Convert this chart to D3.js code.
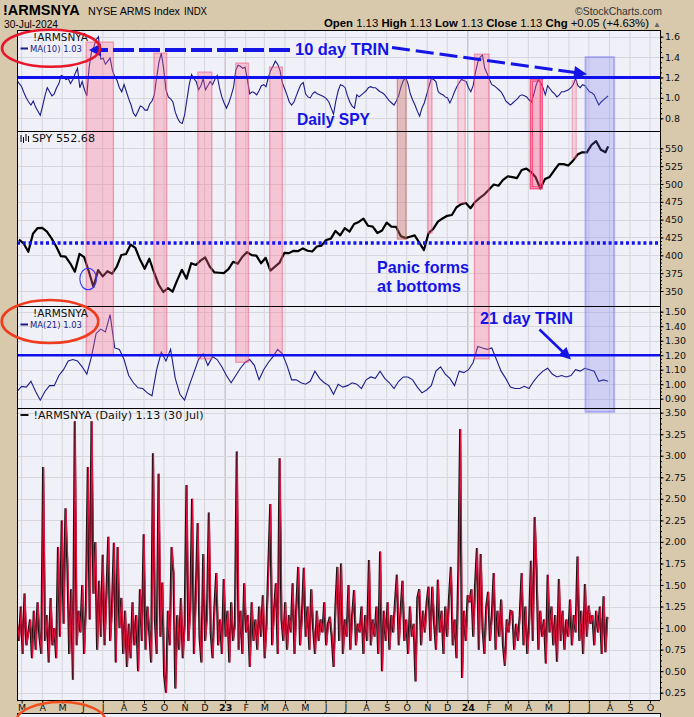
<!DOCTYPE html>
<html><head><meta charset="utf-8">
<script src="https://cdn.jsdelivr.net/npm/d3@7/dist/d3.min.js"></script>
<style>html,body{margin:0;padding:0;background:#d8c8ac;}svg{display:block;}</style>
</head><body>
<svg id="chart" width="694" height="717"></svg>
<script>
// ================= DATA =================
const monthLetters = ["J","F","M","A","M","J","J","A","S","O","N","D"];

// 10-day MA of NYSE TRIN, sampled every 3.5 days from 2022-02-22
const ma10Start = "2022-02-22", ma10StepDays = 3.5;
const ma10Values = [
1.17,1.14,1.11,1.05,1.00,0.96,0.93,0.97,0.91,0.87,
0.83,0.92,1.02,1.10,1.06,1.02,1.04,1.10,1.14,1.22,
1.21,1.18,1.19,1.14,1.18,1.24,1.29,1.10,1.16,1.08,
1.02,1.30,1.45,1.50,1.57,1.60,1.38,1.39,1.33,1.36,
1.39,1.27,1.21,1.17,1.10,1.06,1.13,1.06,0.99,0.93,
0.85,0.82,0.87,0.92,0.91,0.88,0.88,0.94,0.97,1.03,
1.20,1.35,1.44,1.29,1.08,1.01,0.99,0.96,0.86,0.80,
0.76,0.75,0.83,0.98,1.13,1.23,1.19,1.16,1.08,1.12,
1.19,1.08,1.12,1.16,1.13,1.18,1.22,1.10,1.01,0.95,
0.90,0.95,1.02,1.10,1.27,1.32,1.31,1.29,1.30,1.18,
1.04,1.06,1.05,1.03,1.07,1.12,1.13,1.11,1.20,1.27,
1.31,1.36,1.33,1.27,1.15,1.09,1.03,0.96,0.93,0.96,
1.02,1.08,1.13,1.15,1.04,1.01,1.00,1.04,1.06,1.04,
1.03,1.02,1.01,0.99,0.96,0.90,0.84,0.97,1.07,1.13,
1.12,1.10,1.02,0.96,0.92,0.90,1.03,1.01,1.03,1.05,
1.07,1.10,1.11,1.10,1.10,1.08,1.06,1.05,1.03,1.00,
0.97,0.95,0.93,0.97,1.02,1.11,1.17,1.20,1.14,1.04,
0.98,0.93,0.87,0.82,0.90,0.95,1.03,1.11,1.19,1.18,
1.16,1.06,1.04,1.03,1.01,1.00,0.95,1.00,1.06,1.11,
1.15,1.18,1.17,1.16,1.10,1.06,1.12,1.25,1.35,1.40,
1.42,1.29,1.24,1.18,1.13,1.12,1.10,1.08,1.06,1.02,
0.97,0.95,0.93,0.95,0.97,0.99,1.02,1.03,1.02,1.01,
0.98,0.96,1.03,1.12,1.18,1.15,1.10,1.03,1.12,1.09,
1.06,1.04,1.01,1.03,1.06,1.06,1.07,1.08,1.10,1.13,
1.19,1.12,1.10,1.13,1.12,1.09,1.06,1.05,1.03,0.98,
0.93,0.96,0.98,1.00,1.02];

// SPY weekly closes (dividend adjusted), Fridays from 2022-02-25
const spyStart = "2022-02-25", spyStepDays = 7;
const spyWeeklyClose = [
422.0,416.6,405.0,430.3,438.2,438.4,433.3,423.8,412.4,398.8,398.1,388.8,377.1,402.0,397.4,377.3,355.7,379.2,370.5,377.8,
374.3,384.0,400.5,401.9,415.1,410.3,394.0,381.2,395.2,376.3,359.1,348.6,354.1,349.0,365.3,379.7,367.3,388.9,386.5,392.6,
397.1,383.9,376.0,375.6,375.1,
380.7,390.9,388.4,398.0,404.5,400.2,399.6,388.9,396.5,378.6,384.1,389.8,403.3,403.1,406.3,406.0,409.7,406.4,405.4,412.3,
413.7,421.5,423.4,434.2,428.0,438.0,433.3,443.9,446.8,451.4,441.4,440.3,431.3,434.7,445.8,440.2,439.9,427.0,424.1,426.1,
428.0,417.8,407.4,431.2,437.1,447.2,451.7,455.4,456.5,467.4,471.8,473.4,
466.0,474.8,480.5,485.5,492.4,499.2,497.5,505.8,510.8,509.7,508.3,519.6,521.5,516.8,509.3,493.7,506.8,509.8,519.2,527.9,
527.8,525.8,532.4,541.2,544.5,544.2,554.6,560.0,548.0,544.4];
const spyLastDate = "2024-07-30", spyLastClose = 552.68;

// 21-day MA of NYSE TRIN, weekly from 2022-02-22
const ma21Start = "2022-02-22", ma21StepDays = 7;
const ma21Values = [
0.95,0.985,0.98,1.02,0.95,0.89,0.95,0.99,0.99,1.06,
1.10,1.16,1.17,1.16,1.12,1.07,1.19,1.35,1.38,1.36,
1.48,1.25,1.24,1.17,1.06,1.01,0.975,0.97,0.94,0.92,
1.10,1.22,1.16,1.24,1.04,0.93,0.89,0.99,1.08,1.17,
1.21,1.13,1.19,1.17,1.12,1.06,1.01,1.06,1.11,1.15,
1.17,1.13,1.03,1.10,1.15,1.19,1.24,1.21,1.13,1.03,
1.03,1.01,1.00,1.02,1.09,1.04,1.01,0.99,0.93,1.00,
0.98,0.99,1.01,1.00,0.97,1.03,1.05,1.04,1.09,1.04,
1.01,0.97,1.02,1.05,1.05,1.03,0.98,0.94,0.96,0.99,
1.09,1.12,1.07,1.04,0.99,1.09,1.08,1.10,1.15,1.26,
1.25,1.24,1.25,1.17,1.09,1.04,0.98,0.97,0.97,0.985,
0.97,1.02,1.06,1.09,1.11,1.07,1.05,1.06,1.05,1.06,
1.10,1.09,1.11,1.10,1.09,1.02,1.03,1.02];

// Daily TRIN, sampled every ~2 sessions (2.8 calendar days) from 2022-02-22
const trinStart = "2022-02-22", trinStepDays = 2.8;
const trinValues = [
1.05,0.85,1.25,0.70,1.40,0.80,0.95,1.10,0.65,1.20,
0.75,1.30,0.90,0.70,2.87,0.85,1.15,0.60,1.35,0.80,
1.00,0.65,1.94,0.90,2.25,1.05,2.39,1.75,0.70,1.45,
0.40,3.40,0.80,1.20,0.95,1.50,0.70,1.30,2.87,1.10,
3.40,1.40,2.00,0.75,1.55,0.90,1.85,0.80,1.40,2.06,
0.85,1.25,1.99,0.60,1.94,1.00,1.35,0.70,1.20,0.55,
1.05,0.65,1.30,0.80,1.15,0.50,1.45,0.85,2.09,0.75,
1.25,0.95,0.60,3.03,1.10,0.70,2.79,0.90,1.53,0.45,
0.25,1.20,0.80,1.94,1.64,0.30,1.15,0.75,1.35,0.65,
1.05,2.66,0.85,1.20,2.50,0.70,1.40,2.22,0.90,0.60,
1.86,0.85,1.15,2.34,0.95,0.65,1.25,1.64,0.80,1.10,
0.70,1.57,0.90,1.20,0.60,1.30,0.85,1.05,3.05,0.75,
1.20,0.70,1.52,0.95,1.15,0.55,1.30,0.85,1.10,0.75,
1.25,0.90,1.38,0.65,1.05,1.75,2.44,0.80,1.20,1.52,
0.70,2.97,1.10,0.85,1.30,0.75,1.15,0.95,1.52,0.70,
1.25,1.71,0.80,1.15,1.70,0.90,1.25,0.75,1.45,1.00,
0.70,1.20,0.85,1.10,0.95,1.30,0.80,1.05,1.13,0.90,
0.55,1.25,1.71,0.85,1.75,0.70,1.10,0.90,1.50,0.75,
1.15,1.44,0.80,1.05,0.95,1.25,0.70,1.15,0.85,1.79,
0.80,1.10,0.90,1.25,0.70,1.89,0.50,1.20,0.85,1.30,
0.75,1.15,0.95,1.30,1.62,0.80,1.20,1.55,0.85,1.10,
0.70,1.25,0.90,1.05,0.38,1.35,1.45,0.80,1.20,0.95,
1.30,1.48,0.85,1.48,1.05,0.75,1.56,0.95,1.20,0.70,
1.25,0.90,1.35,1.71,0.80,1.10,0.65,1.67,3.31,0.42,
1.20,0.85,1.38,1.30,1.45,0.90,1.50,1.93,0.75,1.86,
1.00,0.70,1.25,1.42,0.85,1.15,1.64,0.75,1.20,0.90,
1.33,0.80,0.56,1.10,0.95,1.20,1.19,0.75,1.05,0.85,
1.15,1.64,0.80,1.25,0.70,1.05,1.78,0.85,2.29,1.67,
0.75,1.20,0.90,1.10,0.59,1.62,0.95,1.25,0.80,1.15,
0.61,1.57,0.85,1.20,0.75,1.10,0.90,1.33,0.80,1.15,
0.95,1.83,0.85,1.20,0.70,1.51,0.90,1.26,1.05,1.15,
0.80,1.20,0.95,1.25,0.70,1.37,0.72,1.13];

// axis tick labels
const ticksMA10 = [0.8, 1.0, 1.2, 1.4, 1.6];
const ticksSPY = [350, 375, 400, 425, 450, 475, 500, 525, 550];
const ticksMA21 = [0.9, 1.0, 1.1, 1.2, 1.3, 1.4, 1.5];
const ticksTRIN = [0.25, 0.5, 0.75, 1.0, 1.25, 1.5, 1.75, 2.0, 2.25, 2.5, 2.75, 3.0, 3.25, 3.5];

// highlight zones: date span, top value (on MA10 panel), bottom value on given panel
const zoneFrom   = ["2022-06-06","2022-09-16","2022-11-21","2023-01-17","2023-03-09","2023-09-17","2023-11-02","2023-12-17","2024-01-11","2024-04-04","2024-06-06"];
const zoneTo     = ["2022-07-17","2022-10-05","2022-12-12","2023-02-05","2023-03-28","2023-09-30","2023-11-08","2023-12-28","2024-02-02","2024-04-22","2024-06-12"];
const zoneTop    = [1.547,1.439,1.253,1.341,1.302,1.204,1.21,1.20,1.429,1.184,1.168];
const zoneBotPan = [3,3,3,3,3,2,2,2,3,2,2];
const zoneBot    = [1.205,1.205,1.175,1.151,1.198,422.8,431.2,473.2,1.175,493.3,536.3];
const zoneKind   = ["pink","pink","pink","pink","pink","brown","pink","light","pink","strong","light"];

// ================= DRAW =================
const svg = d3.select("#chart");
const L = 17, R = 660;
const P = [null, {t:30,b:131}, {t:131,b:306}, {t:306,b:408}, {t:408,b:700}];
const DAY = 864e5;
const parse = s => new Date(s + "T00:00:00Z");
const seq = (start, step, n) => d3.range(n).map(i => new Date(parse(start).getTime() + i*step*DAY));

const x = d3.scaleUtc().domain([parse("2022-02-22"), parse("2024-10-16")]).range([L, R]);
const y1 = d3.scaleLinear().domain([0.8,1.6]).range([118.3,36.7]);
const y2 = d3.scaleLinear().domain([350,550]).range([291,148.3]);
const y3 = d3.scaleLinear().domain([0.9,1.5]).range([398.7,311.7]);
const y4 = d3.scaleLinear().domain([0.25,3.5]).range([692.7,412.7]);
const Y = [null,y1,y2,y3,y4];
const TK = [null,ticksMA10,ticksSPY,ticksMA21,ticksTRIN];

const months = d3.utcMonth.range(parse("2022-03-01"), parse("2024-10-02"));

const defs = svg.append("defs");
P.forEach((p,i)=>{ if(!p) return;
  defs.append("clipPath").attr("id","cp"+i).append("rect")
    .attr("x",L).attr("y",p.t).attr("width",R-L).attr("height",p.b-p.t);
});
defs.append("clipPath").attr("id","cpAll").append("rect").attr("x",L).attr("y",30).attr("width",R-L).attr("height",670);

// plot background
svg.append("rect").attr("x",L).attr("y",30).attr("width",R-L).attr("height",670).attr("fill","#eff0f8");

// grid
for (let i=1;i<=4;i++){
  const g = svg.append("g").attr("clip-path",`url(#cp${i})`);
  g.selectAll("line.v").data(months).enter().append("line")
    .attr("x1",d=>x(d)).attr("x2",d=>x(d)).attr("y1",P[i].t).attr("y2",P[i].b)
    .attr("stroke",d=>d.getUTCMonth()===0?"#b8b4b0":"#d6d6dc").attr("stroke-width",1);
  g.selectAll("line.h").data(TK[i]).enter().append("line")
    .attr("x1",L).attr("x2",R).attr("y1",d=>Math.round(Y[i](d))+0.5).attr("y2",d=>Math.round(Y[i](d))+0.5)
    .attr("stroke","#d6d6dc").attr("stroke-width",1);
}

// series
const ma10Dates = seq(ma10Start, ma10StepDays, ma10Values.length);
svg.append("path").attr("clip-path","url(#cp1)")
  .attr("d", d3.line().x((d,i)=>x(ma10Dates[i])).y(d=>y1(d))(ma10Values))
  .attr("fill","none").attr("stroke","#1c1c8a").attr("stroke-width",1.1);

const spyDates = seq(spyStart, spyStepDays, spyWeeklyClose.length).concat([parse(spyLastDate)]);
const spyVals = spyWeeklyClose.concat([spyLastClose]);
svg.append("path").attr("clip-path","url(#cp2)")
  .attr("d", d3.line().x((d,i)=>x(spyDates[i])).y(d=>y2(d))(spyVals))
  .attr("fill","none").attr("stroke","#000").attr("stroke-width",2.2).attr("stroke-linejoin","round");

const ma21Dates = seq(ma21Start, ma21StepDays, ma21Values.length);
svg.append("path").attr("clip-path","url(#cp3)")
  .attr("d", d3.line().x((d,i)=>x(ma21Dates[i])).y(d=>y3(d))(ma21Values))
  .attr("fill","none").attr("stroke","#1c1c8a").attr("stroke-width",1.1);

const trinDates = seq(trinStart, trinStepDays, trinValues.length);
const trinLine = d3.line().x((d,i)=>x(trinDates[i])).y(d=>y4(d));
const g4 = svg.append("g").attr("clip-path","url(#cp4)");
g4.append("path").attr("d", trinLine(trinValues)).attr("fill","none").attr("stroke","#111").attr("stroke-width",2.0);
g4.append("path").attr("d", trinLine(trinValues)).attr("transform","translate(0.6,0)")
  .attr("fill","none").attr("stroke","#e0103c").attr("stroke-width",1.2);

// highlight zones
const zoneStyle = {
  pink:  {fill:"rgba(255,105,140,0.32)", stroke:"rgba(240,90,120,0.55)"},
  brown: {fill:"rgba(205,110,100,0.40)", stroke:"rgba(200,95,90,0.6)"},
  light: {fill:"rgba(255,120,150,0.24)", stroke:"rgba(245,100,130,0.45)"},
  strong:{fill:"rgba(255,80,125,0.36)", stroke:"rgba(250,60,110,0.85)"}
};
const zg = svg.append("g").attr("clip-path","url(#cpAll)");
zoneFrom.forEach((f,i)=>{
  const x0 = x(parse(f)), x1 = x(parse(zoneTo[i]));
  const t = y1(zoneTop[i]), b = Y[zoneBotPan[i]](zoneBot[i]);
  const st = zoneStyle[zoneKind[i]];
  zg.append("rect").attr("x",x0).attr("y",t).attr("width",x1-x0).attr("height",b-t)
    .attr("fill",st.fill).attr("stroke",st.stroke).attr("stroke-width",1.3);
  if (zoneKind[i]==="strong"){
    zg.append("rect").attr("x",x0+2).attr("y",t+2).attr("width",x1-x0-4).attr("height",b-t-4)
      .attr("fill","none").attr("stroke",st.stroke).attr("stroke-width",1.3);
  }
});
// blue zone
{
  const x0=x(parse("2024-06-26")), x1=x(parse("2024-08-08"));
  const t=y1(1.40), b=y4(3.51);
  zg.append("rect").attr("x",x0).attr("y",t).attr("width",x1-x0).attr("height",b-t)
    .attr("fill","rgba(110,110,240,0.24)").attr("stroke","rgba(120,120,240,0.5)").attr("stroke-width",2);
}

// reference lines
svg.append("line").attr("x1",L).attr("x2",R).attr("y1",y1(1.2)).attr("y2",y1(1.2))
  .attr("stroke","#1010ee").attr("stroke-width",3);
svg.append("line").attr("x1",L).attr("x2",R).attr("y1",y3(1.2)).attr("y2",y3(1.2))
  .attr("stroke","#1010ee").attr("stroke-width",2.5);
svg.append("line").attr("x1",L).attr("x2",R).attr("y1",y2(417.2)).attr("y2",y2(417.2))
  .attr("stroke","#1414f0").attr("stroke-width",3.5).attr("stroke-dasharray","3,2.8");

// panel borders
const bord = svg.append("g").attr("stroke","#000").attr("stroke-width",1).attr("fill","none");
[30,131,306,408,700].forEach(yy=>bord.append("line").attr("x1",L).attr("x2",R).attr("y1",yy+0.5).attr("y2",yy+0.5));
bord.append("line").attr("x1",L+0.5).attr("x2",L+0.5).attr("y1",30).attr("y2",700);
bord.append("line").attr("x1",R+0.5).attr("x2",R+0.5).attr("y1",30).attr("y2",700);

// right axes
function rAxis(scale, vals, fmt, minorStep){
  const g = svg.append("g").attr("transform",`translate(${R+0.5},0)`);
  g.call(d3.axisRight(scale).tickValues(vals).tickSize(3).tickPadding(1.5).tickFormat(fmt));
  g.select(".domain").remove();
  g.selectAll("text").attr("font-family","DejaVu Sans, Verdana, sans-serif").attr("font-size",9.5).attr("fill","#111");
  g.selectAll("line").attr("stroke","#000");
  const lo = d3.min(vals), hi = d3.max(vals);
  const minor = d3.range(lo, hi+1e-9, minorStep);
  const m = svg.append("g").attr("transform",`translate(${R+0.5},0)`);
  m.call(d3.axisRight(scale).tickValues(minor).tickSize(1.5).tickFormat(""));
  m.select(".domain").remove();
  m.selectAll("line").attr("stroke","#000");
}
rAxis(y1, ticksMA10, d3.format(".1f"), 0.05);
rAxis(y2, ticksSPY, d3.format("d"), 5);
rAxis(y3, ticksMA21, d3.format(".2f"), 0.025);
rAxis(y4, ticksTRIN, d3.format(".2f"), 0.0625);

// x axis
const gx = svg.append("g").attr("transform","translate(0,700.5)");
gx.call(d3.axisBottom(x).tickValues(months).tickSize(3).tickPadding(1)
  .tickFormat(d => d.getUTCMonth()===0 ? d3.utcFormat("%y")(d) : monthLetters[d.getUTCMonth()]));
gx.select(".domain").remove();
gx.selectAll("line").attr("stroke","#000");
gx.selectAll("text").attr("font-family","DejaVu Sans, Verdana, sans-serif").attr("font-size",9.5)
  .attr("fill","#111").attr("font-weight",d=>d.getUTCMonth()===0?"bold":"normal");
// next panel edge at bottom
svg.append("rect").attr("x",L+0.5).attr("y",713.5).attr("width",R-L).attr("height",10)
  .attr("fill","#eff0f8").attr("stroke","#000");

// ================= TEXT: header =================
const SANS = "Liberation Sans, Arial, sans-serif";
const VER = "DejaVu Sans, Verdana, sans-serif";
svg.append("text").attr("x",3).attr("y",15).attr("font-family",SANS).attr("font-weight","bold")
  .attr("font-size",14.5).text("!ARMSNYA");
svg.append("text").attr("x",88).attr("y",15).attr("font-family",SANS).attr("font-size",11)
  .attr("textLength",92).attr("lengthAdjust","spacingAndGlyphs").text("NYSE ARMS Index");
svg.append("text").attr("x",184).attr("y",15).attr("font-family",SANS).attr("font-size",11)
  .attr("textLength",23).attr("lengthAdjust","spacingAndGlyphs").text("INDX");
svg.append("text").attr("x",4).attr("y",28).attr("font-family",SANS).attr("font-size",10)
  .attr("textLength",54).attr("lengthAdjust","spacingAndGlyphs").text("30-Jul-2024");
svg.append("text").attr("x",575).attr("y",15).attr("font-family",SANS).attr("font-size",11.5).attr("fill","#333")
  .attr("textLength",87).attr("lengthAdjust","spacingAndGlyphs").text("©StockCharts.com");
{
  const t = svg.append("text").attr("x",324).attr("y",27).attr("font-family",SANS).attr("font-size",11.5)
    .attr("textLength",325).attr("lengthAdjust","spacingAndGlyphs");
  const parts = [["Open",1],[" 1.13 ",0],["High",1],[" 1.13 ",0],["Low",1],[" 1.13 ",0],["Close",1],[" 1.13 ",0],["Chg",1],[" +0.05 (+4.63%)",0]];
  parts.forEach(p=>t.append("tspan").attr("font-weight",p[1]?"bold":"normal").text(p[0]));
  svg.append("text").attr("x",653).attr("y",27).attr("font-family",SANS).attr("font-size",8).attr("fill","#666").text("▲");
}

// ================= legends =================
function legend(yTop, name, label, col){
  svg.append("text").attr("x",33).attr("y",yTop).attr("font-family",VER).attr("font-size",10).attr("fill","#111")
    .attr("textLength",55).attr("lengthAdjust","spacingAndGlyphs").text(name);
  svg.append("rect").attr("x",20.5).attr("y",yTop+7).attr("width",7.5).attr("height",2).attr("fill",col);
  svg.append("text").attr("x",30).attr("y",yTop+11).attr("font-family",VER).attr("font-size",9).attr("fill",col)
    .attr("textLength",52).attr("lengthAdjust","spacingAndGlyphs").text(label);
}
legend(40.5, "!ARMSNYA", "MA(10) 1.03", "#1c1c8a");
legend(316.5, "!ARMSNYA", "MA(21) 1.03", "#1c1c8a");
// SPY legend
{
  const ic = svg.append("g").attr("stroke","#000").attr("stroke-width",1);
  [[21,135,142],[23.5,137,143],[26,134,141],[28.5,136,142]].forEach(a=>ic.append("line").attr("x1",a[0]).attr("x2",a[0]).attr("y1",a[1]).attr("y2",a[2]));
  svg.append("text").attr("x",32).attr("y",142).attr("font-family",VER).attr("font-size",10.5).attr("fill","#111")
    .attr("textLength",63).attr("lengthAdjust","spacingAndGlyphs").text("SPY 552.68");
}
// daily legend
svg.append("rect").attr("x",20.5).attr("y",414).attr("width",8).attr("height",2).attr("fill","#111");
svg.append("text").attr("x",33.5).attr("y",419).attr("font-family",VER).attr("font-size",10).attr("fill","#111")
  .attr("textLength",170).attr("lengthAdjust","spacingAndGlyphs").text("!ARMSNYA (Daily) 1.13 (30 Jul)");

// ================= annotations =================
const BLUE = "#1414e6";
function atext(xp, yp, w, s){
  svg.append("text").attr("x",xp).attr("y",yp).attr("font-family",SANS).attr("font-weight","bold")
    .attr("font-size",16.5).attr("fill",BLUE).attr("textLength",w).attr("lengthAdjust","spacingAndGlyphs").text(s);
}
atext(295, 54.5, 94, "10 day TRIN");
atext(297, 124.5, 73, "Daily SPY");
atext(377, 272.7, 92, "Panic forms");
atext(377, 291.7, 84, "at bottoms");
atext(480, 324.3, 93, "21 day TRIN");

// dashed arrow to the left
svg.append("line").attr("x1",290).attr("x2",100).attr("y1",50).attr("y2",50)
  .attr("stroke",BLUE).attr("stroke-width",4).attr("stroke-dasharray","21,5");
svg.append("polygon").attr("points","89,50 101,43.5 101,56.5").attr("fill",BLUE);
// dashed arrow to the right
svg.append("line").attr("x1",392).attr("y1",47.5).attr("x2",575).attr("y2",72.6)
  .attr("stroke",BLUE).attr("stroke-width",3).attr("stroke-dasharray","18,6");
svg.append("polygon").attr("points","587,74.3 573.2,78.9 575.0,66.1").attr("fill",BLUE);
// 21 day arrow
svg.append("line").attr("x1",539.5).attr("y1",329.5).attr("x2",564).attr("y2",353)
  .attr("stroke",BLUE).attr("stroke-width",2.5);
svg.append("polygon").attr("points","571,359.5 558.2,355.5 566.4,346.9").attr("fill",BLUE);

// small blue ellipse at June 2022 low
svg.append("ellipse").attr("cx",x(parse("2022-06-09"))).attr("cy",y2(366.8)).attr("rx",8.3).attr("ry",10.8)
  .attr("fill","none").attr("stroke","#3a3aff").attr("stroke-width",1.1);

// red ellipses
svg.append("ellipse").attr("cx",51).attr("cy",48.3).attr("rx",49).attr("ry",18.5)
  .attr("fill","none").attr("stroke","#e8162a").attr("stroke-width",2.6);
svg.append("ellipse").attr("cx",50).attr("cy",321.5).attr("rx",48.3).attr("ry",21.5)
  .attr("fill","none").attr("stroke","#f03c1e").attr("stroke-width",2.6);
svg.append("ellipse").attr("cx",61).attr("cy",722).attr("rx",45).attr("ry",20)
  .attr("fill","none").attr("stroke","#f0501e").attr("stroke-width",2.6);
</script>
</body></html>
